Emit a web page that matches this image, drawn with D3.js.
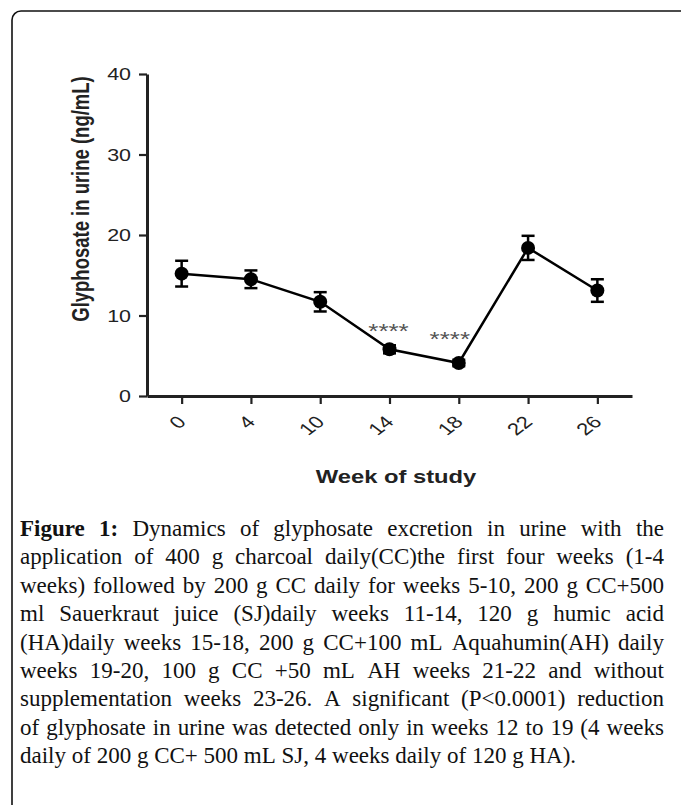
<!DOCTYPE html>
<html>
<head>
<meta charset="utf-8">
<script src="https://cdn.jsdelivr.net/npm/d3@7"></script>
<style>
  body { margin: 0; background: #fff; }
  svg { display: block; }
</style>
</head>
<body>
<div id="chart"></div>
<script>
// values
const weeks = ["0", "4", "10", "14", "18", "22", "26"];
const meanValues = [15.2, 14.5, 11.7, 5.8, 4.1, 18.4, 13.1];
const semValues = [1.6, 1.1, 1.2, 0.5, 0.4, 1.5, 1.4];
const yTicks = [0, 10, 20, 30, 40];
const sigWeeks = ["14", "18"];
const sigLabels = ["****", "****"];
const sigLevel = [8.6, 7.7];

const captionLines = [
    "Figure 1: Dynamics of glyphosate excretion in urine with the",
    "application of 400 g charcoal daily(CC)the first four weeks (1-4",
    "weeks) followed by 200 g CC daily for weeks 5-10, 200 g CC+500",
    "ml Sauerkraut juice (SJ)daily weeks 11-14, 120 g humic acid",
    "(HA)daily weeks 15-18, 200 g CC+100 mL Aquahumin(AH) daily",
    "weeks 19-20, 100 g CC +50 mL AH weeks 21-22 and without",
    "supplementation weeks 23-26. A significant (P<0.0001) reduction",
    "of glyphosate in urine was detected only in weeks 12 to 19 (4 weeks",
    "daily of 200 g CC+ 500 mL SJ, 4 weeks daily of 120 g HA)."
];

const W = 681, H = 805;
const stretch = 1.3;   // chart lettering is drawn wide in the original
const sans = "'Liberation Sans', Arial, Helvetica, sans-serif";
const ink = "#222";

const svg = d3.select("#chart").append("svg")
    .attr("width", W)
    .attr("height", H);

svg.append("rect").attr("width", W).attr("height", H).attr("fill", "#fff");

// rounded frame, runs off the right and bottom edge
svg.append("rect")
    .attr("x", 12).attr("y", 11)
    .attr("width", W + 40).attr("height", H + 40)
    .attr("rx", 9)
    .attr("fill", "none")
    .attr("stroke", "#111")
    .attr("stroke-width", 1.6);

const x = d3.scalePoint().domain(weeks).range([147, 632]).padding(0.5);
const y = d3.scaleLinear().domain([0, 40]).range([396, 74]);

// y axis
const gy = svg.append("g")
    .attr("transform", "translate(147,0)")
    .call(d3.axisLeft(y).tickValues(yTicks).tickSize(8).tickSizeOuter(0));
gy.select(".domain").attr("stroke", ink).attr("stroke-width", 3);
gy.selectAll(".tick line").attr("stroke", ink).attr("stroke-width", 2.2);
gy.selectAll(".tick text")
    .attr("x", 0).attr("dy", "0.36em")
    .attr("transform", `translate(-16,0) scale(${stretch},1)`)
    .attr("font-family", sans).attr("font-size", "16.5px")
    .attr("fill", ink);

// x axis
const gx = svg.append("g")
    .attr("transform", "translate(0,396)")
    .call(d3.axisBottom(x).tickSize(8).tickSizeOuter(0));
gx.select(".domain").attr("stroke", ink).attr("stroke-width", 3);
gx.selectAll(".tick line").attr("stroke", ink).attr("stroke-width", 2.2);
gx.selectAll(".tick text")
    .attr("x", 0).attr("y", 0).attr("dy", 0)
    .attr("text-anchor", "end")
    .attr("transform", `translate(5,27) scale(${stretch},1) rotate(-45)`)
    .attr("font-family", sans).attr("font-size", "17px")
    .attr("fill", ink);

// axis titles
svg.append("text")
    .attr("transform", `translate(89,199) scale(${stretch},1) rotate(-90)`)
    .attr("text-anchor", "middle")
    .attr("font-family", sans).attr("font-weight", "bold").attr("font-size", "18.5px")
    .attr("fill", ink)
    .text("Glyphosate in urine (ng/mL)");

svg.append("text")
    .attr("transform", `translate(396,483) scale(1.25,1)`)
    .attr("text-anchor", "middle")
    .attr("font-family", sans).attr("font-weight", "bold").attr("font-size", "19px")
    .attr("fill", ink)
    .text("Week of study");

// line
const line = d3.line()
    .x((d, i) => x(weeks[i]))
    .y(d => y(d));
svg.append("path")
    .datum(meanValues)
    .attr("d", line)
    .attr("fill", "none")
    .attr("stroke", "#000")
    .attr("stroke-width", 2.5);

// error bars
const eb = svg.append("g").selectAll("g")
    .data(meanValues)
    .enter().append("g");
eb.append("line")
    .attr("x1", (d, i) => x(weeks[i])).attr("x2", (d, i) => x(weeks[i]))
    .attr("y1", (d, i) => y(d + semValues[i])).attr("y2", (d, i) => y(d - semValues[i]))
    .attr("stroke", "#000").attr("stroke-width", 2.5);
[1, -1].forEach(s => {
    eb.append("line")
        .attr("x1", (d, i) => x(weeks[i]) - 6.5).attr("x2", (d, i) => x(weeks[i]) + 6.5)
        .attr("y1", (d, i) => y(d + s * semValues[i])).attr("y2", (d, i) => y(d + s * semValues[i]))
        .attr("stroke", "#000").attr("stroke-width", 2.5);
});

// points
svg.append("g").selectAll("circle")
    .data(meanValues)
    .enter().append("circle")
    .attr("cx", (d, i) => x(weeks[i]))
    .attr("cy", d => y(d))
    .attr("r", 7)
    .attr("fill", "#000");

// significance stars
svg.append("g").selectAll("text")
    .data(sigLabels)
    .enter().append("text")
    .attr("transform", (d, i) => `translate(${x(sigWeeks[i]) + (i === 1 ? -9 : -1)},${y(sigLevel[i]) + 11.5}) scale(${stretch},1)`)
    .attr("text-anchor", "middle")
    .attr("font-family", sans).attr("font-size", "20px")
    .attr("fill", "#555")
    .text(d => d);

// caption, justified line by line
const capLeft = 20, capRight = 664, capTop = 536, capStep = 28.4;
const serif = "'Liberation Serif', 'Times New Roman', serif";
const cap = svg.append("g")
    .attr("font-family", serif)
    .attr("font-size", "23px")
    .attr("fill", "#111");

captionLines.forEach((ln, li) => {
    const words = ln.split(" ");
    const base = capTop + li * capStep;
    const nodes = words.map((w, wi) => cap.append("text")
        .attr("y", base)
        .attr("font-weight", li === 0 && wi < 2 ? "bold" : null)
        .text(w));
    const widths = nodes.map(n => n.node().getComputedTextLength());
    const total = d3.sum(widths);
    const last = li === captionLines.length - 1;
    const gap = last ? 5.75 : (capRight - capLeft - total) / (words.length - 1);
    let cx = capLeft;
    nodes.forEach((n, k) => {
        n.attr("x", cx);
        cx += widths[k] + gap;
    });
});
</script>
</body>
</html>
